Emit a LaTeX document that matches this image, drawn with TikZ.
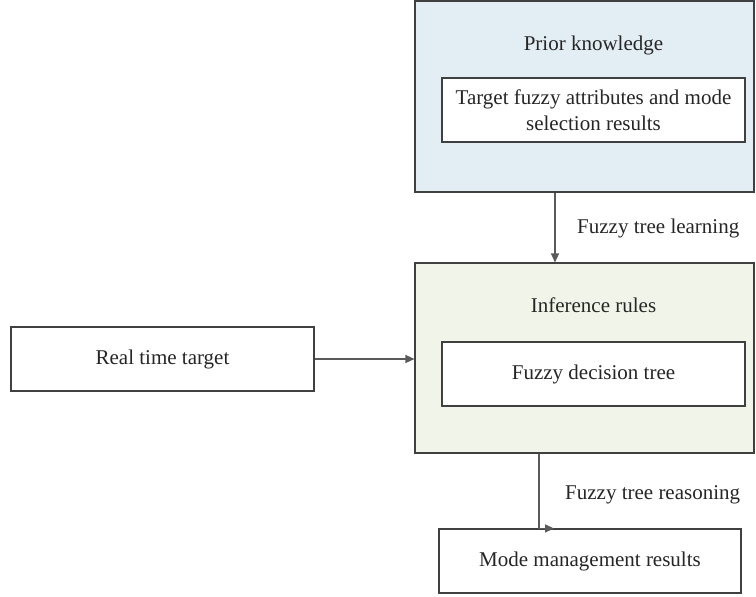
\documentclass[tikz,border=0pt]{standalone}
\usepackage{fontspec}
\setmainfont{Liberation Serif}
\usetikzlibrary{arrows.meta}
\definecolor{linegray}{HTML}{404040}
\definecolor{arrowgray}{HTML}{5A5A5A}
\definecolor{priorfill}{HTML}{E3EDF4}
\definecolor{rulefill}{HTML}{F1F4E8}
\tikzset{
  box/.style={draw=linegray, line width=1.1pt, inner sep=0pt, align=center,
    font=\fontsize{21}{26}\selectfont, text=black!85},
  txt/.style={font=\fontsize{21}{26}\selectfont, text=black!85, inner sep=0pt},
  arr/.style={draw=arrowgray, line width=1.2pt,
    -{Triangle[length=9pt,width=8pt]}}
}
\begin{document}
\begin{tikzpicture}[x=1pt,y=-1pt]
  \useasboundingbox (0,0) rectangle (756,597);

  % knowledge base and rule base
  \node[box, fill=priorfill, minimum width=339pt, minimum height=191pt] (prior) at (584.5,96.5) {};
  \node[txt] (priorlbl) at (593.5,45) {Prior knowledge};
  \node[box, fill=white, minimum width=303pt, minimum height=64pt] (attr) at (593.5,110)
    {Target fuzzy attributes and mode\\selection results};

  \node[box, fill=rulefill, minimum width=339pt, minimum height=190pt] (rules) at (584.5,358) {};
  \node[txt] (ruleslbl) at (593.5,305) {Inference rules};
  \node[box, fill=white, minimum width=303pt, minimum height=64pt] (tree) at (593.5,374)
    {Fuzzy decision tree};

  % input and output
  \node[box, fill=white, minimum width=303pt, minimum height=64pt] (target) at (162.5,359)
    {Real time target};
  \node[box, fill=white, minimum width=302pt, minimum height=64pt] (result) at (590,561)
    {Mode management results};

  % connectors
  \coordinate (learnx) at (555,0);
  \coordinate (reasonx) at (539,0);
  \coordinate (reasonend) at (554,0);
  \draw[arr] (prior.south -| learnx) -- (rules.north -| learnx);
  \node[txt, anchor=west] (learnlbl) at (577,228) {Fuzzy tree learning};

  \draw[arr] (target.east) -- (target.east -| rules.west);

  \draw[arr] (rules.south -| reasonx) -- (result.north -| reasonx) -- (result.north -| reasonend);
  \node[txt, anchor=west] (reasonlbl) at (565,495) {Fuzzy tree reasoning};
\end{tikzpicture}
\end{document}
